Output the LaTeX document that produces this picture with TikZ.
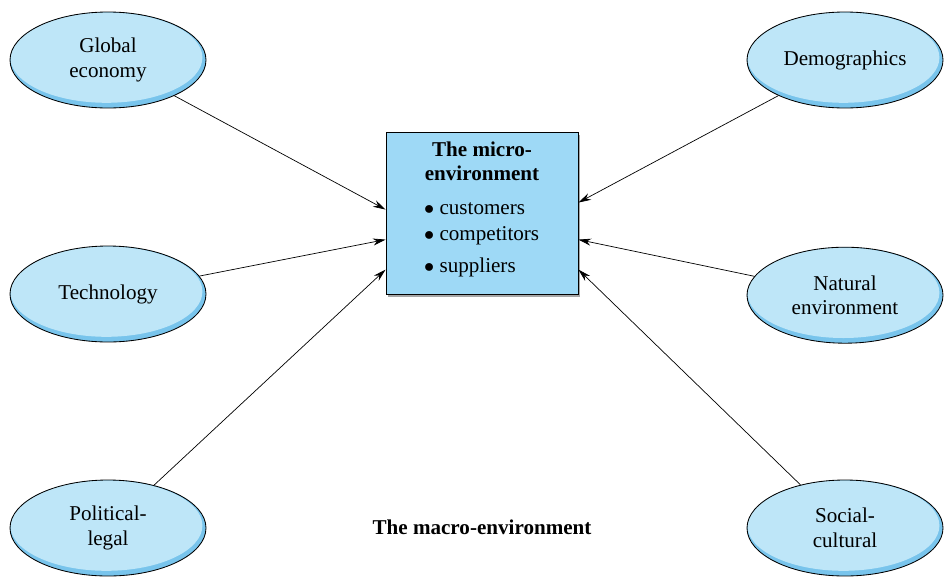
\documentclass[tikz,border=0pt]{standalone}
\usepackage{fontspec}
\setmainfont{Liberation Serif}
\usetikzlibrary{arrows.meta,shadows,calc,shapes.geometric}

\definecolor{ellfill}{RGB}{190,230,248}
\definecolor{ellband}{RGB}{120,196,236}
\definecolor{boxfill}{RGB}{158,217,246}

\tikzset{
    txt/.style={font=\fontsize{15}{17.5}\selectfont},
    force/.style={txt, draw, line width=0.6pt, ellipse, align=center,
        minimum width=4.9cm, minimum height=2.4cm, inner sep=0pt,
        path picture={
            \fill[ellband] (path picture bounding box.south west) rectangle (path picture bounding box.north east);
            \fill[ellfill] ([shift={(-0.04,0.06)}]path picture bounding box.center) ellipse (2.4cm and 1.13cm);
        }},
    micro/.style={draw, line width=0.6pt, fill=boxfill, minimum width=4.8cm, minimum height=4.05cm,
        drop shadow={shadow xshift=1.5pt, shadow yshift=-2pt, fill=black!35, opacity=1}},
    feed/.style={line width=0.5pt, -{Stealth[length=9pt,width=5pt]}},
}

\begin{document}
\begin{tikzpicture}
\useasboundingbox (0,0) rectangle (23.625,-14.425);
% Variables: 1 := position, 2 := name, 3 := label.
\def\macroforce(#1)#2#3{
    \node[force] (#2) at (#1) {#3};
}
\macroforce(2.7,-1.5){GE}{Global\\economy}
\macroforce(2.7,-7.35){TECH}{Technology}
\macroforce(2.7,-13.2){POL}{Political-\\legal}
\macroforce(21.125,-1.5){DEMO}{Demographics}
\macroforce(21.125,-7.38){NAT}{Natural\\environment}
\macroforce(21.125,-13.2){SOC}{Social-\\cultural}

\node[micro] (MICRO) at (12.05,-5.325) {};
\node[txt, font=\fontsize{15}{17.5}\selectfont\bfseries, align=center] (TITLE) at (12.05,-4.03) {The micro-\\environment};
\node[txt, font=\fontsize{15}{18.2}\selectfont, align=left, anchor=west] (LIST) at (10.48,-6.0)
    {$\bullet$ customers\\ $\bullet$ competitors\\[4.5pt] $\bullet$ suppliers};

\coordinate (W1) at ($ (MICRO.north west) + (0,-1.95) $);
\coordinate (W2) at ($ (MICRO.north west) + (0,-2.7) $);
\coordinate (W3) at ($ (MICRO.north west) + (0,-3.45) $);
\coordinate (E1) at ($ (MICRO.north east) + (0,-1.775) $);
\coordinate (E2) at ($ (MICRO.north east) + (0,-2.7) $);
\coordinate (E3) at ($ (MICRO.north east) + (0,-3.45) $);

\draw[feed] (GE) -- (W1);
\draw[feed] (TECH) -- (W2);
\draw[feed] (POL) -- (W3);
\draw[feed] (DEMO) -- (E1);
\draw[feed] (NAT) -- (E2);
\draw[feed] (SOC) -- (E3);

\node[txt, font=\fontsize{15}{17.5}\selectfont\bfseries] (MACRO) at (12.05,-13.18) {The macro-environment};
\end{tikzpicture}
\end{document}
